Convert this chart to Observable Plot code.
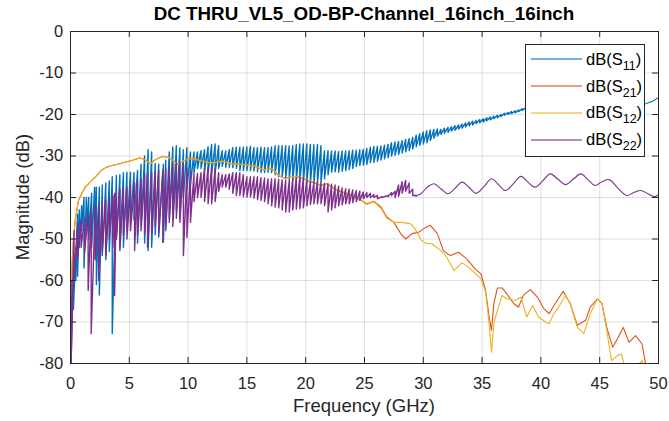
<!DOCTYPE html>
<html><head><meta charset="utf-8">
<script src="https://cdn.jsdelivr.net/npm/d3@7"></script>
<script src="https://cdn.jsdelivr.net/npm/@observablehq/plot@0.6"></script>
<style>
body{margin:0;background:#fff;}
#wrap{position:relative;width:669px;height:421px;font-family:"Liberation Sans",Arial,Helvetica,sans-serif;color:#262626;overflow:hidden;}
#title{position:absolute;left:70px;width:588px;top:4px;text-align:center;font-weight:bold;font-size:18.8px;line-height:20px;color:#000;white-space:nowrap;}
#xlabel{position:absolute;left:70px;width:588px;top:396px;text-align:center;font-size:18.5px;line-height:20px;white-space:nowrap;}
#ylabel{position:absolute;left:23px;top:197px;transform:translate(-50%,-50%) rotate(-90deg);white-space:nowrap;font-size:18.5px;line-height:20px;}
#legend{position:absolute;left:525px;top:44px;width:118px;height:111px;border:1px solid #262626;background:#fff;}
.sample{position:absolute;left:5px;width:51px;height:2px;opacity:0.55;}
.lab{position:absolute;left:60px;font-size:16.5px;line-height:20px;color:#000;white-space:nowrap;}
.lab sub{font-size:12.5px;vertical-align:-5px;line-height:0;}
</style>
</head><body>
<div id="wrap">
  <div id="chart"></div>
  <div id="title">DC THRU_VL5_OD-BP-Channel_16inch_16inch</div>
  <div id="xlabel">Frequency (GHz)</div>
  <div id="ylabel">Magnitude (dB)</div>
  <div id="legend"></div>
</div>
<script>
// ---- tick values ----
const xTicks = [0, 5, 10, 15, 20, 25, 30, 35, 40, 45, 50];
const yTicks = [-80, -70, -60, -50, -40, -30, -20, -10, 0];

// ---- legend ----
const seriesNames = ["S11", "S21", "S12", "S22"];
const seriesSubs = ["11", "21", "12", "22"];
const seriesColors = ["#0072BD", "#D95319", "#EDB120", "#7E2F8E"];

// ---- S11: dense oscillation [freq GHz, peak dB, trough dB] ----
const s11Osc = [
[0.05,-66,-80],[0.25,-57,-67],[0.45,-52,-60],[0.6,-44,-59],[0.75,-43,-52],[0.95,-42,-48],[1.15,-40,-57],[1.35,-40,-47],
[1.55,-40,-50],[1.8,-39,-52],[2.05,-37.5,-50],[2.2,-37.5,-61],[2.45,-37.5,-63.5],[2.7,-37,-54],[3.0,-36.5,-55],[3.3,-36,-53],
[3.55,-35,-72.8],[3.9,-34.7,-50],[4.2,-34.5,-52],[4.5,-34,-52],[4.8,-33.9,-48],[5.1,-33.9,-46],[5.4,-34,-45.5],[5.7,-33.5,-51],
[6.0,-32,-47],[6.3,-30,-51],[6.6,-28.5,-52.8],[6.9,-29,-52],[7.2,-31.8,-49],[7.5,-32,-49.5],[7.9,-32,-50.8],[8.1,-31,-48],
[8.4,-29,-45],[8.7,-27.8,-44],[9.0,-27.5,-43],[9.3,-28,-45],[9.6,-28.5,-40],[9.9,-28,-38],[10.2,-29,-37],[10.5,-29,-34],
[10.8,-29,-33],[11.1,-28.7,-33],[11.4,-28.5,-33.5],[11.7,-27.8,-34],[12.0,-27.2,-34.2],[12.3,-27.1,-34],[12.6,-27.5,-33],[12.9,-28.7,-32.5],
[13.2,-28.8,-32.7],[13.5,-28.5,-32.7],[13.8,-28,-32.8],[14.1,-27.9,-33],[14.4,-27.9,-33.5],[14.7,-27.9,-33.5],[15.0,-27.8,-33.5],[15.3,-27.7,-33.5],
[15.6,-28,-33.6],[15.9,-28,-33.8],[16.2,-27.9,-34],[16.5,-28,-34],[16.8,-28,-33.9],[17.1,-27.8,-34],[17.4,-27.5,-34.5],[17.7,-27.5,-35],
[18.0,-27.5,-35.1],[18.3,-27.5,-35.3],[18.6,-27.6,-35.7],[18.9,-27.5,-35.9],[19.2,-27.3,-36],[19.5,-27.1,-36.2],[19.8,-27.1,-36.3],[20.1,-27.1,-36.4],
[20.4,-27.2,-36.5],[20.7,-27.3,-36.6],[21.0,-27.2,-36.5],[21.3,-27.5,-36.3],[21.6,-28.7,-35.5],[21.9,-28.7,-34.5],[22.2,-28.8,-33.9],[22.5,-28.8,-33.8],
[22.8,-28.9,-33.9],[23.1,-28.8,-33.7],[23.4,-28.8,-33.5],[23.7,-28.7,-33.3],[24.0,-28.6,-33],[24.3,-28.6,-32.5],[24.6,-28.5,-32.3],[24.9,-28.4,-32.2],
[25.2,-28.2,-32],[25.5,-27.9,-31.6],[25.8,-27.7,-31.5],[26.1,-27.7,-31.3],[26.4,-27.6,-31],[26.7,-27.4,-30.7],[27.0,-27.2,-30.4],[27.3,-26.8,-30],
[27.6,-26.6,-29.8],[27.9,-26.5,-29.6],[28.2,-26.3,-29.3],[28.5,-26,-29],[28.8,-25.8,-28.7],[29.1,-25.5,-28.3],[29.4,-25,-27.8],[29.7,-24.6,-27.4],
[30.0,-24.2,-27.1],[30.3,-23.9,-26.8],[30.6,-23.7,-26.3],[30.9,-23.6,-25.7],[31.2,-23.5,-25.2],[31.5,-23.6,-24.8],[31.8,-23.3,-24.5],[32.1,-23.1,-24.3],
[32.4,-22.9,-24.0],[32.7,-22.7,-23.8],[33.0,-22.5,-23.5],[33.3,-22.3,-23.3],[33.6,-22.0,-23.0],[33.9,-21.8,-22.7],[34.2,-21.6,-22.5],[34.5,-21.4,-22.2],
[34.8,-21.2,-22.0],[35.1,-21.0,-21.8],[35.4,-20.8,-21.5],[35.7,-20.6,-21.3],[36.0,-20.4,-21.0],[36.3,-20.2,-20.8],[36.6,-20.0,-20.5],[36.9,-19.7,-20.2],
[37.2,-19.5,-20.0],[37.5,-19.3,-19.8],[37.8,-19.1,-19.6],[38.1,-18.9,-19.3],[38.4,-18.6,-19.0],[38.7,-18.4,-18.8]
];
// ---- S11: smooth tail [freq GHz, dB] ----
const s11Tail = [[38.7,-18.6],[40,-18.0],[43,-17.5],[46,-17.5],[48.9,-17.4],[49.5,-16.8],[50,-15.9]];

// ---- S21 [freq GHz, dB] ----
const s21 = [
[0.03,-69],[0.08,-62],[0.15,-55],[0.25,-50],[0.4,-45.5],[0.68,-40.7],[1.0,-38.8],[1.25,-37.5],[1.7,-36.2],[2.1,-35.1],
[2.6,-33.5],[3.0,-32.8],[3.5,-32.3],[4.0,-32],[4.4,-31.7],[4.8,-31.4],[5.2,-31.1],[5.6,-30.7],[5.9,-30.5],[6.35,-30.9],
[6.8,-31.9],[7.2,-30.9],[7.8,-30.1],[8.3,-30.3],[8.7,-31.0],[9.0,-31.9],[9.3,-31.8],[9.6,-31.2],[10.0,-30.7],[10.5,-30.7],
[11.2,-31.2],[11.8,-31.6],[12.3,-31.6],[12.9,-31.2],[13.75,-31.9],[14.3,-32.0],[14.9,-32.1],[15.7,-32.5],[16.4,-33.3],[17.15,-33.1],
[17.7,-34.7],[18.3,-35.5],[18.85,-34.9],[19.55,-35.1],[20.4,-36.2],[21.3,-37.1],[21.8,-36.7],[22.7,-38.3],[23.5,-39.1],[24.5,-40.3],
[25.2,-41.5],[25.8,-40.9],[26.4,-42.3],[26.9,-44.7],[27.5,-46],[28.1,-48.8],[28.5,-50],[29.05,-48.7],[29.6,-48.4],[30.2,-47.2],
[30.6,-46.7],[31.2,-48.7],[31.7,-52.8],[32.3,-54],[33.0,-53.2],[33.7,-54.8],[34.4,-57.2],[34.9,-58.4],[35.3,-62.4],[35.6,-68.8],
[35.8,-72],[36.0,-65.6],[36.3,-61.8],[36.7,-61.8],[37.1,-63.2],[37.7,-65.6],[38.1,-66.4],[38.5,-63.6],[39.1,-62.2],[39.7,-64],
[40.25,-66.8],[40.7,-68],[41.2,-65.6],[41.9,-62.6],[42.5,-65.6],[43.1,-70.8],[43.8,-69.6],[44.2,-66.4],[44.8,-64.4],[45.2,-65.6],
[45.6,-71.3],[46.1,-76.1],[46.5,-74.1],[47.0,-71.3],[47.5,-74.9],[48.05,-73.3],[48.6,-75.3],[48.9,-80],[49.2,-84],[50,-86]
];

// ---- S12 [freq GHz, dB] ----
const s12 = [
[0.03,-69],[0.08,-62],[0.15,-55],[0.25,-50],[0.4,-45.5],[0.68,-40.7],[1.0,-38.8],[1.25,-37.5],[1.7,-36.2],[2.1,-35.1],
[2.6,-33.5],[3.0,-32.8],[3.5,-32.3],[4.0,-32],[4.4,-31.7],[4.8,-31.4],[5.2,-31.1],[5.6,-30.7],[5.9,-30.5],[6.35,-30.9],
[6.8,-31.9],[7.2,-30.9],[7.8,-30.1],[8.3,-30.3],[8.7,-31.0],[9.0,-31.9],[9.3,-31.8],[9.6,-31.2],[10.0,-30.7],[10.5,-30.7],
[11.2,-31.2],[11.8,-31.6],[12.3,-31.6],[12.9,-31.2],[13.75,-31.9],[14.3,-32.0],[14.9,-32.1],[15.7,-32.5],[16.4,-33.3],[17.15,-33.1],
[17.7,-34.7],[18.3,-35.5],[18.85,-34.9],[19.55,-35.1],[20.4,-36.0],[21.3,-37.0],[21.8,-36.6],[22.7,-38.2],[23.5,-39.0],[24.5,-40.3],
[25.2,-41.7],[25.8,-41.0],[26.4,-42.6],[26.9,-45.0],[27.5,-46],[28.1,-46],[28.9,-46.3],[29.3,-47.5],[29.8,-50.2],[30.2,-51],
[30.75,-51.2],[31.5,-52.8],[32.0,-54.4],[32.6,-57.6],[33.3,-55.7],[34.0,-57.2],[34.9,-59.6],[35.3,-62.8],[35.6,-70.4],[35.8,-77.3],
[36.0,-70.4],[36.3,-67.2],[36.7,-63.6],[37.1,-64.4],[37.8,-64.8],[38.3,-64],[38.8,-68.8],[39.3,-66],[39.8,-68.8],[40.4,-70],
[40.7,-70.4],[41.1,-68],[41.5,-66.4],[42.1,-63.6],[42.5,-65.6],[43.1,-71.3],[43.65,-72.8],[44.2,-68],[44.8,-64.4],[45.2,-65.6],
[45.6,-72],[46.0,-79.3],[46.5,-78.1],[46.85,-77.7],[47.1,-80.5],[47.6,-82],[48.2,-80.5],[48.6,-79.3],[49,-82],[50,-85]
];

// ---- S22: dense oscillation [freq GHz, peak dB, trough dB] ----
const s22Osc = [
[0.05,-60,-80],[0.3,-48,-60],[0.6,-46,-55],[0.9,-45.5,-52],[1.2,-45,-53],[1.5,-44,-62.4],[1.76,-43,-72.8],[2.1,-42,-55],
[2.4,-41.5,-60],[2.7,-41,-53],[3.0,-40.5,-54],[3.3,-40,-50],[3.6,-39.5,-52],[3.75,-39,-63.6],[3.9,-38.5,-50],[4.2,-38,-52.8],
[4.5,-37.5,-49],[4.8,-37.5,-50],[5.1,-37,-48],[5.45,-36.5,-52.8],[5.7,-35.9,-49],[6.0,-35.5,-48],[6.3,-34.5,-49],[6.55,-34.2,-52],
[6.9,-34,-48.7],[7.2,-33.8,-47],[7.5,-33.5,-48.5],[7.85,-33.5,-50.8],[8.1,-33.2,-47],[8.4,-32.5,-46],[8.7,-31.8,-47],[9.0,-31.8,-45],
[9.3,-31.8,-46],[9.6,-32,-54],[9.9,-33,-49.6],[10.2,-33.5,-46],[10.5,-34.2,-41],[10.8,-34.2,-40],[11.1,-34,-40],[11.4,-33,-41],
[11.7,-32.7,-41.5],[12.0,-32.7,-41.5],[12.3,-33,-41],[12.6,-34,-38.5],[12.9,-34.5,-37.5],[13.2,-34.5,-37.5],[13.5,-34.3,-38],[13.8,-34,-39],
[14.1,-34,-39.5],[14.4,-34,-39.5],[14.7,-34.5,-39.8],[15.0,-35,-39.9],[15.3,-35,-39.9],[15.6,-35,-40.2],[15.9,-35,-40.5],[16.2,-35.2,-40.7],
[16.5,-35.3,-41],[16.8,-35.5,-41.5],[17.1,-35.5,-42],[17.4,-35.5,-42.3],[17.7,-35.6,-42.5],[18.0,-35.7,-43],[18.3,-35.8,-43.5],[18.6,-35.9,-43.5],
[18.9,-35.5,-43],[19.2,-35.2,-42.8],[19.5,-35.1,-42.7],[19.8,-35.3,-42.5],[20.1,-35.8,-42],[20.4,-36.2,-41.7],[20.7,-36.3,-41.5],[21.0,-36.3,-41.5],
[21.3,-36.4,-41.5],[21.6,-36.6,-42],[21.9,-36.7,-43.5],[22.2,-36.8,-43],[22.5,-37,-42.5],[22.8,-37.3,-42],[23.1,-37.7,-41.8],[23.4,-37.9,-41.5],
[23.7,-38,-41.5],[24.0,-38.2,-41.2],[24.3,-38.3,-41],[24.6,-38.5,-40.7],[24.9,-38.7,-40.3],[25.2,-38.8,-40],[25.5,-39,-40],[25.8,-39.3,-40],
[26.1,-39.5,-40.3],[26.5,-39.8,-40.0],[27.0,-39.5,-39.8],[27.3,-38.8,-39.5],[27.6,-38.5,-40],[27.9,-37,-39.7],[28.2,-36.2,-39],[28.5,-35.9,-38.5],
[28.8,-36.5,-39],[29.1,-38,-39.5],[29.4,-39.5,-39.7]
];
// ---- S22: slow ripple [freq GHz, dB] ----
const s22Wave = [
[29.4,-39.6],[29.8,-39.1],[30.35,-37.5],[30.9,-36.7],[31.5,-37.9],[32.1,-39.1],[32.7,-37.8],[33.3,-36.3],[33.9,-37.6],[34.5,-39.0],
[35.15,-37.4],[35.8,-35.5],[36.4,-36.9],[37.0,-38.3],[37.65,-36.7],[38.3,-34.9],[38.9,-36.3],[39.5,-37.5],[40.15,-36.0],[40.8,-34.3],
[41.45,-35.6],[42.1,-36.9],[42.75,-35.6],[43.4,-34.3],[44.0,-35.7],[44.6,-37.1],[45.2,-36.2],[45.8,-35.7],[46.5,-37.6],[47.3,-39.5],
[47.9,-38.8],[48.5,-38.3],[49.1,-39.1],[49.7,-39.8],[50,-39.3]
];

// ---- build plot tables ----
const zig = (tr) => tr.flatMap(([f, hi, lo]) => [{f, v: hi}, {f, v: lo}]);
const pts = (arr) => arr.map(([f, v]) => ({f, v}));

const lineOpts = (c, w, extra = {}) => ({x: "f", y: "v", stroke: c, strokeWidth: w, clip: true, ...extra});

const chart = Plot.plot({
  width: 669,
  height: 421,
  marginLeft: 70,
  marginRight: 11,
  marginTop: 31,
  marginBottom: 58,
  style: {fontFamily: '"Liberation Sans", Arial, Helvetica, sans-serif', fontSize: "16.5px", color: "#262626", background: "#fff", overflow: "visible"},
  x: {domain: [0, 50]},
  y: {domain: [-80, 0]},
  marks: [
    Plot.gridX(xTicks, {stroke: "#262626", strokeOpacity: 0.15}),
    Plot.gridY(yTicks, {stroke: "#262626", strokeOpacity: 0.15}),
    Plot.line(zig(s11Osc), lineOpts(seriesColors[0], 1.4)),
    Plot.line(pts(s11Tail), lineOpts(seriesColors[0], 1.1)),
    Plot.line(pts(s21), lineOpts(seriesColors[1], 1.1)),
    Plot.line(pts(s12), lineOpts(seriesColors[2], 1.1)),
    Plot.line(zig(s22Osc), lineOpts(seriesColors[3], 1.4)),
    Plot.line(pts(s22Wave), lineOpts(seriesColors[3], 1.1, {curve: "catmull-rom"})),
    Plot.frame({stroke: "#262626"}),
    Plot.tickX(xTicks, {x: d => d, insetTop: 326, stroke: "#262626"}),
    Plot.tickX(xTicks, {x: d => d, insetBottom: 326, stroke: "#262626"}),
    Plot.tickY(yTicks, {y: d => d, insetLeft: 582, stroke: "#262626"}),
    Plot.tickY(yTicks, {y: d => d, insetRight: 582, stroke: "#262626"}),
    Plot.axisX(xTicks, {tickSize: 0, tickPadding: 13.5, tickFormat: d => String(d), label: null, fontSize: 16.5}),
    Plot.axisY(yTicks, {tickSize: 0, tickPadding: 7.3, tickFormat: d => String(d), label: null, fontSize: 16.5})
  ]
});
document.getElementById("chart").appendChild(chart);

// ---- legend rows ----
const legend = document.getElementById("legend");
const rowCenters = [14.3, 41.2, 68.1, 95.0];
seriesNames.forEach((name, i) => {
  const s = document.createElement("div");
  s.className = "sample";
  s.style.top = (rowCenters[i] - 1) + "px";
  s.style.background = seriesColors[i];
  legend.appendChild(s);
  const t = document.createElement("div");
  t.className = "lab";
  t.style.top = (rowCenters[i] - 10.7) + "px";
  t.innerHTML = "dB(S<sub>" + seriesSubs[i] + "</sub>)";
  legend.appendChild(t);
});
</script>
</body></html>
